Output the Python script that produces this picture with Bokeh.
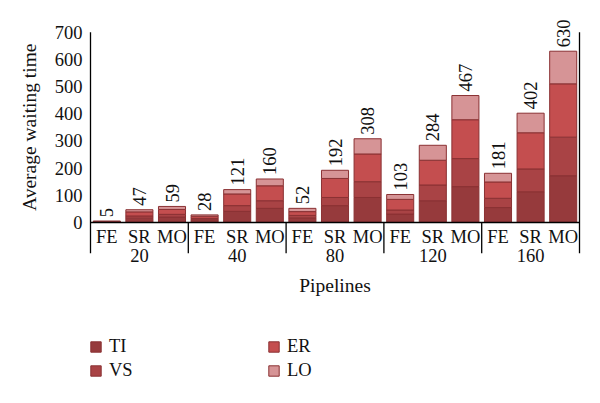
import numpy as np
from bokeh.plotting import figure
from bokeh.models import (Range1d, LinearAxis, FixedTicker, Legend, LegendItem,
                          ColumnDataSource, Title)
from bokeh.core.properties import value
from bokeh.embed import file_html
from bokeh.resources import INLINE

# ---------------- data ----------------
groups = ["20", "40", "80", "120", "160"]
methods = ["FE", "SR", "MO"]
series = ["TI", "VS", "ER", "LO"]

# order: 20-FE, 20-SR, 20-MO, 40-FE, ... 160-MO
TI = [2, 16, 20, 10, 41, 52, 17, 62, 92, 31, 80, 132, 55, 113, 172]
VS = [1, 8, 10, 5, 21, 28, 9, 30, 58, 15, 58, 103, 34, 84, 142]
ER = [1, 15, 18, 8, 43, 55, 14, 70, 102, 39, 91, 143, 60, 133, 196]
LO = [1, 8, 11, 5, 16, 25, 12, 30, 56, 18, 55, 89, 32, 72, 120]
totals = [5, 47, 59, 28, 121, 160, 52, 192, 308, 103, 284, 467, 181, 402, 630]
y_ticks = [0, 100, 200, 300, 400, 500, 600, 700]

# ---------------- style ----------------
FONT = "Liberation Serif, DejaVu Serif, serif"
FS = "18.5px"
TXT = "#111111"
colors = ["#963A3C", "#A94345", "#C44E4F", "#D69496"]
edge = "#8A3133"

n_m = len(methods)
n = len(groups) * n_m
xs = np.arange(n) + 0.5
sub_labels = [m for g in groups for m in methods]
group_x = np.arange(len(groups)) * n_m + n_m / 2
bounds_x = np.arange(len(groups) + 1) * n_m

src = ColumnDataSource(dict(x=xs, TI=TI, VS=VS, ER=ER, LO=LO,
                            total=totals, lab=[str(t) for t in totals]))

p = figure(width=600, height=403, output_backend="svg", toolbar_location=None,
           x_range=Range1d(-0.092, 15.644), y_range=Range1d(-665.8, 757.7),
           min_border_left=87, min_border_right=0, min_border_top=16,
           min_border_bottom=0, x_axis_location=None, y_axis_location=None)
p.outline_line_color = None
p.background_fill_color = "white"
p.grid.visible = False

yax = LinearAxis(bounds=(0, 700), ticker=FixedTicker(ticks=y_ticks))
yax.axis_line_color = None
yax.major_tick_out = 0
yax.major_tick_in = 0
yax.minor_tick_line_color = None
yax.major_label_standoff = 5
yax.major_label_text_font = FONT
yax.major_label_text_font_size = FS
yax.major_label_text_color = TXT
p.add_layout(yax, "left")

ytitle = Title(text="Average waiting time", align="right", offset=27,
               text_font=FONT, text_font_size="19.5px", text_font_style="normal",
               text_color=TXT, standoff=24)
p.add_layout(ytitle, "left")

rs = p.vbar_stack(series, x="x", width=0.83, source=src,
                  fill_color=colors, line_color=edge, line_width=1)

# value labels
p.text(x="x", y="total", text="lab", source=src, angle=np.pi / 2,
       text_align="left", text_baseline="middle", y_offset=-4,
       text_font=value(FONT), text_font_size=FS, text_color=TXT)

# axis lines
last = bounds_x[-1]
p.segment(x0=[0], y0=[0], x1=[last], y1=[0], line_color="black", line_width=1.3)
p.segment(x0=[0, last], y0=[-113, -113], x1=[0, last], y1=[700, 700],
          line_color="black", line_width=1.3)
p.segment(x0=bounds_x[1:-1], y0=[0] * (len(bounds_x) - 2),
          x1=bounds_x[1:-1], y1=[-113] * (len(bounds_x) - 2),
          line_color="black", line_width=1.3)

# category labels
p.text(x=xs, y=[-55] * n, text=sub_labels, text_align="center",
       text_baseline="middle", text_font=value(FONT), text_font_size=FS,
       text_color=TXT)
p.text(x=group_x, y=[-121] * len(groups), text=groups, text_align="center",
       text_baseline="middle", text_font=value(FONT), text_font_size=FS,
       text_color=TXT)
p.text(x=[last / 2], y=[-232], text=["Pipelines"], text_align="center",
       text_baseline="middle", text_font=value(FONT), text_font_size="19.5px",
       text_color=TXT)

legend = Legend(items=[LegendItem(label=s, renderers=[r]) for s, r in zip(series, rs)],
                location=(2, 22), orientation="vertical", nrows=2,
                glyph_width=13, glyph_height=13, label_standoff=7, spacing=3,
                padding=0, margin=0, border_line_color=None,
                background_fill_alpha=0, label_width=155, label_height=20,
                label_text_font=FONT, label_text_font_size=FS,
                label_text_color=TXT)
p.add_layout(legend)

open("out.html", "w").write(file_html(p, INLINE))
